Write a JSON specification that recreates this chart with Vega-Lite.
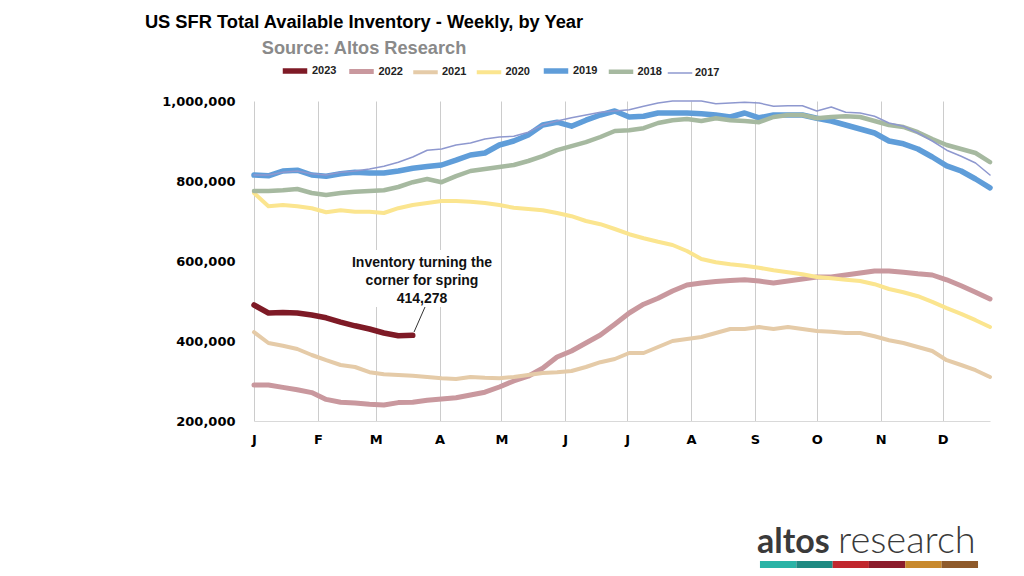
{
  "$schema": "https://vega.github.io/schema/vega-lite/v6.json",
  "width": 736,
  "height": 320,
  "autosize": "none",
  "padding": {"left": 254, "top": 101, "right": 34, "bottom": 155},
  "background": "white",
  "config": {"view": {"stroke": null}, "font": "Liberation Sans"},
  "title": {
    "text": "US SFR Total Available Inventory - Weekly, by Year",
    "subtitle": "Source: Altos Research",
    "anchor": "middle",
    "frame": "group",
    "dx": -258,
    "offset": -2,
    "font": "Liberation Sans",
    "fontSize": 18.3,
    "fontWeight": "bold",
    "color": "#000000",
    "subtitleFont": "Liberation Sans",
    "subtitleFontSize": 18.2,
    "subtitleFontWeight": "bold",
    "subtitleColor": "#8a8a8a",
    "subtitlePadding": 8
  },
  "data": {
    "values": [
      {"week": 0, "2023": 490000, "2022": 290000, "2021": 422000, "2020": 770000, "2019": 815000, "2018": 775000, "2017": 815000},
      {"week": 1, "2023": 470000, "2022": 290000, "2021": 395000, "2020": 737000, "2019": 813000, "2018": 775000, "2017": 815000},
      {"week": 2, "2023": 471000, "2022": 284000, "2021": 388000, "2020": 740000, "2019": 825000, "2018": 777000, "2017": 822000},
      {"week": 3, "2023": 470000, "2022": 278000, "2021": 380000, "2020": 737000, "2019": 827000, "2018": 780000, "2017": 825000},
      {"week": 4, "2023": 465000, "2022": 271000, "2021": 365000, "2020": 732000, "2019": 815000, "2018": 770000, "2017": 818000},
      {"week": 5, "2023": 458000, "2022": 254000, "2021": 352000, "2020": 722000, "2019": 812000, "2018": 765000, "2017": 815000},
      {"week": 6, "2023": 447000, "2022": 247000, "2021": 340000, "2020": 727000, "2019": 818000, "2018": 770000, "2017": 822000},
      {"week": 7, "2023": 438000, "2022": 245000, "2021": 335000, "2020": 723000, "2019": 822000, "2018": 773000, "2017": 825000},
      {"week": 8, "2023": 430000, "2022": 242000, "2021": 322000, "2020": 723000, "2019": 820000, "2018": 775000, "2017": 830000},
      {"week": 9, "2023": 420000, "2022": 240000, "2021": 317000, "2020": 720000, "2019": 820000, "2018": 777000, "2017": 837000},
      {"week": 10, "2023": 413000, "2022": 246000, "2021": 315000, "2020": 732000, "2019": 825000, "2018": 785000, "2017": 847000},
      {"week": 11, "2023": 414278, "2022": 247000, "2021": 313000, "2020": 740000, "2019": 832000, "2018": 797000, "2017": 860000},
      {"week": 12, "2023": null, "2022": 252000, "2021": 310000, "2020": 745000, "2019": 836000, "2018": 805000, "2017": 877000},
      {"week": 13, "2023": null, "2022": 255000, "2021": 307000, "2020": 750000, "2019": 840000, "2018": 797000, "2017": 880000},
      {"week": 14, "2023": null, "2022": 258000, "2021": 305000, "2020": 750000, "2019": 852000, "2018": 812000, "2017": 890000},
      {"week": 15, "2023": null, "2022": 265000, "2021": 310000, "2020": 748000, "2019": 865000, "2018": 825000, "2017": 895000},
      {"week": 16, "2023": null, "2022": 272000, "2021": 308000, "2020": 745000, "2019": 870000, "2018": 830000, "2017": 905000},
      {"week": 17, "2023": null, "2022": 285000, "2021": 307000, "2020": 740000, "2019": 890000, "2018": 835000, "2017": 910000},
      {"week": 18, "2023": null, "2022": 300000, "2021": 310000, "2020": 733000, "2019": 900000, "2018": 840000, "2017": 912000},
      {"week": 19, "2023": null, "2022": 312000, "2021": 315000, "2020": 730000, "2019": 915000, "2018": 850000, "2017": 922000},
      {"week": 20, "2023": null, "2022": 332000, "2021": 320000, "2020": 727000, "2019": 940000, "2018": 862000, "2017": 940000},
      {"week": 21, "2023": null, "2022": 360000, "2021": 322000, "2020": 720000, "2019": 947000, "2018": 877000, "2017": 950000},
      {"week": 22, "2023": null, "2022": 375000, "2021": 325000, "2020": 712000, "2019": 937000, "2018": 887000, "2017": 958000},
      {"week": 23, "2023": null, "2022": 395000, "2021": 335000, "2020": 700000, "2019": 952000, "2018": 897000, "2017": 965000},
      {"week": 24, "2023": null, "2022": 415000, "2021": 347000, "2020": 692000, "2019": 965000, "2018": 910000, "2017": 972000},
      {"week": 25, "2023": null, "2022": 442000, "2021": 355000, "2020": 680000, "2019": 975000, "2018": 925000, "2017": 975000},
      {"week": 26, "2023": null, "2022": 470000, "2021": 370000, "2020": 667000, "2019": 960000, "2018": 927000, "2017": 978000},
      {"week": 27, "2023": null, "2022": 492000, "2021": 370000, "2020": 657000, "2019": 962000, "2018": 932000, "2017": 987000},
      {"week": 28, "2023": null, "2022": 507000, "2021": 385000, "2020": 648000, "2019": 970000, "2018": 945000, "2017": 995000},
      {"week": 29, "2023": null, "2022": 525000, "2021": 400000, "2020": 640000, "2019": 970000, "2018": 952000, "2017": 1000000},
      {"week": 30, "2023": null, "2022": 540000, "2021": 405000, "2020": 625000, "2019": 970000, "2018": 955000, "2017": 1000000},
      {"week": 31, "2023": null, "2022": 545000, "2021": 410000, "2020": 605000, "2019": 968000, "2018": 950000, "2017": 1000000},
      {"week": 32, "2023": null, "2022": 549000, "2021": 420000, "2020": 597000, "2019": 965000, "2018": 957000, "2017": 993000},
      {"week": 33, "2023": null, "2022": 551000, "2021": 430000, "2020": 592000, "2019": 960000, "2018": 952000, "2017": 995000},
      {"week": 34, "2023": null, "2022": 553000, "2021": 430000, "2020": 588000, "2019": 970000, "2018": 950000, "2017": 997000},
      {"week": 35, "2023": null, "2022": 550000, "2021": 435000, "2020": 583000, "2019": 958000, "2018": 947000, "2017": 995000},
      {"week": 36, "2023": null, "2022": 545000, "2021": 430000, "2020": 577000, "2019": 965000, "2018": 960000, "2017": 987000},
      {"week": 37, "2023": null, "2022": 550000, "2021": 435000, "2020": 572000, "2019": 965000, "2018": 965000, "2017": 988000},
      {"week": 38, "2023": null, "2022": 555000, "2021": 430000, "2020": 567000, "2019": 965000, "2018": 965000, "2017": 988000},
      {"week": 39, "2023": null, "2022": 560000, "2021": 425000, "2020": 560000, "2019": 957000, "2018": 957000, "2017": 975000},
      {"week": 40, "2023": null, "2022": 560000, "2021": 423000, "2020": 557000, "2019": 950000, "2018": 960000, "2017": 985000},
      {"week": 41, "2023": null, "2022": 565000, "2021": 420000, "2020": 553000, "2019": 940000, "2018": 962000, "2017": 972000},
      {"week": 42, "2023": null, "2022": 570000, "2021": 420000, "2020": 550000, "2019": 930000, "2018": 960000, "2017": 970000},
      {"week": 43, "2023": null, "2022": 575000, "2021": 412000, "2020": 542000, "2019": 920000, "2018": 950000, "2017": 962000},
      {"week": 44, "2023": null, "2022": 575000, "2021": 402000, "2020": 530000, "2019": 900000, "2018": 940000, "2017": 945000},
      {"week": 45, "2023": null, "2022": 572000, "2021": 395000, "2020": 522000, "2019": 893000, "2018": 935000, "2017": 937000},
      {"week": 46, "2023": null, "2022": 568000, "2021": 385000, "2020": 512000, "2019": 880000, "2018": 922000, "2017": 920000},
      {"week": 47, "2023": null, "2022": 565000, "2021": 375000, "2020": 498000, "2019": 860000, "2018": 905000, "2017": 900000},
      {"week": 48, "2023": null, "2022": 553000, "2021": 352000, "2020": 482000, "2019": 838000, "2018": 890000, "2017": 877000},
      {"week": 49, "2023": null, "2022": 538000, "2021": 340000, "2020": 468000, "2019": 825000, "2018": 880000, "2017": 862000},
      {"week": 50, "2023": null, "2022": 522000, "2021": 327000, "2020": 452000, "2019": 805000, "2018": 870000, "2017": 845000},
      {"week": 51, "2023": null, "2022": 505000, "2021": 310000, "2020": 435000, "2019": 783000, "2018": 847000, "2017": 815000}
    ]
  },
  "layer": [
    {
      "transform": [{"fold": ["2023", "2022", "2021", "2020", "2019", "2018", "2017"], "as": ["year", "v"]}],
      "mark": {"type": "line", "strokeCap": "round", "strokeJoin": "round"},
      "encoding": {
        "x": {
          "field": "week", "type": "quantitative",
          "scale": {"domain": [0, 51], "nice": false, "zero": false},
          "axis": {
            "title": null,
            "values": [0, 4.43, 8.43, 12.86, 17.14, 21.57, 25.86, 30.29, 34.71, 39, 43.43, 47.71],
            "labelExpr": "['J','F','M','A','M','J','J','A','S','O','N','D'][indexof([0, 4.43, 8.43, 12.86, 17.14, 21.57, 25.86, 30.29, 34.71, 39, 43.43, 47.71], datum.value)]",
            "grid": true, "gridColor": "#cccccc", "gridWidth": 1,
            "ticks": false, "domain": true, "domainColor": "#d9d9d9", "domainWidth": 1,
            "labelFont": "DejaVu Sans", "labelFontWeight": "bold", "labelFontSize": 13, "labelColor": "#000000",
            "labelPadding": 12, "labelAlign": "center", "labelFlush": false, "labelOverlap": false
          }
        },
        "y": {
          "field": "v", "type": "quantitative",
          "scale": {"domain": [200000, 1000000], "nice": false, "zero": false},
          "axis": {
            "title": null, "values": [200000, 400000, 600000, 800000, 1000000], "format": ",.0f",
            "domain": false, "ticks": false, "grid": false,
            "labelFont": "DejaVu Sans", "labelFontWeight": "bold", "labelFontSize": 13, "labelColor": "#000000",
            "labelPadding": 19
          }
        },
        "color": {
          "field": "year", "type": "nominal",
          "scale": {
            "domain": ["2023", "2022", "2021", "2020", "2019", "2018", "2017"],
            "range": ["#7e1a26", "#c9989e", "#e5cba8", "#fbe58f", "#5f9dd9", "#a6b9a0", "#8e98cf"]
          },
          "legend": {
            "title": null, "orient": "none", "legendX": 26, "legendY": -45, "direction": "horizontal",
            "symbolType": "stroke", "symbolSize": 600, "labelFont": "Liberation Sans", "labelFontSize": 11,
            "labelFontWeight": "bold", "labelColor": "#222222", "columnPadding": 1.5, "labelOffset": 2
          }
        },
        "strokeWidth": {
          "field": "year", "type": "nominal",
          "scale": {
            "type": "ordinal",
            "domain": ["2023", "2022", "2021", "2020", "2019", "2018", "2017"],
            "range": [5.5, 5, 4, 4, 5.5, 4.5, 1.5]
          },
          "legend": {
            "title": null, "orient": "none", "legendX": 26, "legendY": -45, "direction": "horizontal",
            "symbolType": "stroke", "symbolSize": 600, "labelFont": "Liberation Sans", "labelFontSize": 11,
            "labelFontWeight": "bold", "labelColor": "#222222", "columnPadding": 1.5, "labelOffset": 2
          }
        }
      }
    },
    {
      "data": {"values": [{}]},
      "mark": {"type": "rect", "fill": "white"},
      "encoding": {
        "x": {"datum": 6.65, "type": "quantitative"},
        "x2": {"datum": 16.8},
        "y": {"datum": 627500, "type": "quantitative"},
        "y2": {"datum": 485000}
      }
    },
    {
      "data": {"values": [{}]},
      "mark": {"type": "rule", "color": "#333333", "strokeWidth": 1},
      "encoding": {
        "x": {"datum": 11.09, "type": "quantitative"},
        "x2": {"datum": 11.85},
        "y": {"datum": 422500, "type": "quantitative"},
        "y2": {"datum": 485000}
      }
    },
    {
      "data": {"values": [{}]},
      "mark": {
        "type": "text",
        "text": ["Inventory turning the", "corner for spring", "414,278"],
        "font": "Liberation Sans", "fontSize": 14, "fontWeight": "bold", "fill": "#111111",
        "align": "center", "baseline": "top", "lineHeight": 18
      },
      "encoding": {
        "x": {"datum": 11.64, "type": "quantitative"},
        "y": {"datum": 612500, "type": "quantitative"}
      }
    },
    {
      "data": {"values": [{}]},
      "mark": {"type": "text", "text": "altos", "font": "Lato", "fontSize": 34, "fontWeight": "bold", "fill": "#3a3a3a", "align": "left", "baseline": "alphabetic"},
      "encoding": {"x": {"datum": 34.86, "type": "quantitative"}, "y": {"datum": -130000, "type": "quantitative"}}
    },
    {
      "data": {"values": [{}]},
      "mark": {"type": "text", "text": "research", "font": "Lato", "fontSize": 38, "fontWeight": 300, "fill": "#3a3a3a", "align": "left", "baseline": "alphabetic"},
      "encoding": {"x": {"datum": 40.47, "type": "quantitative"}, "y": {"datum": -130000, "type": "quantitative"}}
    },
    {
      "data": {"values": [{}]},
      "mark": {"type": "rect", "fill": "#2ab3a6"},
      "encoding": {"x": {"datum": 35.06, "type": "quantitative"}, "x2": {"datum": 37.58}, "y": {"datum": -150000, "type": "quantitative"}, "y2": {"datum": -167500}}
    },
    {
      "data": {"values": [{}]},
      "mark": {"type": "rect", "fill": "#1f8a82"},
      "encoding": {"x": {"datum": 37.58, "type": "quantitative"}, "x2": {"datum": 40.1}, "y": {"datum": -150000, "type": "quantitative"}, "y2": {"datum": -167500}}
    },
    {
      "data": {"values": [{}]},
      "mark": {"type": "rect", "fill": "#c1272d"},
      "encoding": {"x": {"datum": 40.1, "type": "quantitative"}, "x2": {"datum": 42.61}, "y": {"datum": -150000, "type": "quantitative"}, "y2": {"datum": -167500}}
    },
    {
      "data": {"values": [{}]},
      "mark": {"type": "rect", "fill": "#8c1c2c"},
      "encoding": {"x": {"datum": 42.61, "type": "quantitative"}, "x2": {"datum": 45.13}, "y": {"datum": -150000, "type": "quantitative"}, "y2": {"datum": -167500}}
    },
    {
      "data": {"values": [{}]},
      "mark": {"type": "rect", "fill": "#c8892e"},
      "encoding": {"x": {"datum": 45.13, "type": "quantitative"}, "x2": {"datum": 47.65}, "y": {"datum": -150000, "type": "quantitative"}, "y2": {"datum": -167500}}
    },
    {
      "data": {"values": [{}]},
      "mark": {"type": "rect", "fill": "#8f5a2a"},
      "encoding": {"x": {"datum": 47.65, "type": "quantitative"}, "x2": {"datum": 50.17}, "y": {"datum": -150000, "type": "quantitative"}, "y2": {"datum": -167500}}
    }
  ]
}
